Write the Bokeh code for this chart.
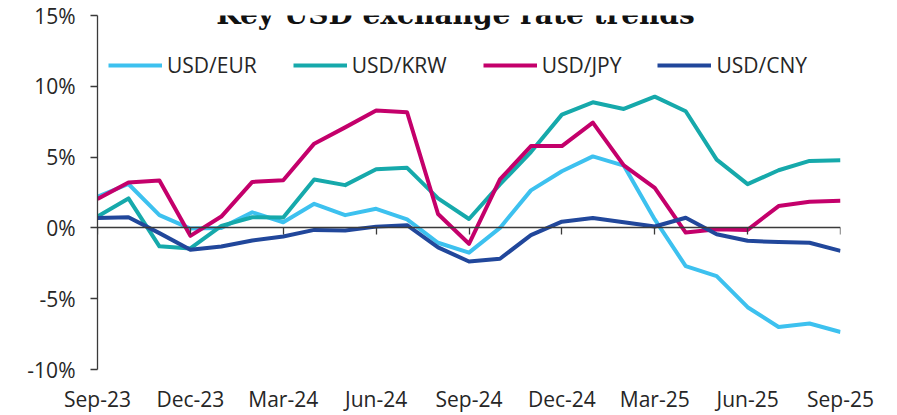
from bokeh.plotting import figure
from bokeh.models import (Range1d, LinearAxis, FixedTicker, CustomJSTickFormatter,
                          Legend, LegendItem, Label)
from bokeh.embed import file_html
from bokeh.resources import INLINE

months = ["Sep-23", "Oct-23", "Nov-23", "Dec-23", "Jan-24", "Feb-24", "Mar-24",
          "Apr-24", "May-24", "Jun-24", "Jul-24", "Aug-24", "Sep-24", "Oct-24",
          "Nov-24", "Dec-24", "Jan-25", "Feb-25", "Mar-25", "Apr-25", "May-25",
          "Jun-25", "Jul-25", "Aug-25", "Sep-25"]

usd_eur = [2.2, 3.1, 0.9, -0.05, 0.0, 1.1, 0.4, 1.7, 0.9, 1.35, 0.6, -1.05, -1.75,
           0.0, 2.65, 4.0, 5.05, 4.4, 0.6, -2.7, -3.4, -5.6, -7.0, -6.75, -7.35]
usd_krw = [0.8, 2.08, -1.3, -1.45, 0.14, 0.75, 0.73, 3.42, 3.02, 4.14, 4.24, 2.08, 0.63,
           3.07, 5.36, 8.0, 8.87, 8.4, 9.27, 8.24, 4.82, 3.09, 4.07, 4.73, 4.78]
usd_jpy = [2.04, 3.2, 3.35, -0.56, 0.8, 3.25, 3.37, 5.95, 7.1, 8.29, 8.17, 0.98, -1.12,
           3.42, 5.78, 5.78, 7.44, 4.42, 2.83, -0.33, -0.1, -0.14, 1.54, 1.85, 1.92]
usd_cny = [0.70, 0.75, -0.37, -1.54, -1.31, -0.89, -0.61, -0.14, -0.18, 0.09, 0.19, -1.38,
           -2.37, -2.18, -0.51, 0.44, 0.7, 0.4, 0.1, 0.72, -0.45, -0.91, -1.0, -1.05, -1.62]

series_names = ["USD/EUR", "USD/KRW", "USD/JPY", "USD/CNY"]
series_colors = ["#3DC1EF", "#16A9AB", "#C4006B", "#21479B"]
y_ticks = [-10, -5, 0, 5, 10, 15]
tick_labels = months[::3]

title_text = "Key USD exchange rate trends"
side_fragments = ["t", "e", "A", "at"]

x = list(range(len(months)))
tick_positions = x[::3]

FONT = "Open Sans"
TXT = "#262626"
AX = "#3a3a3a"

p = figure(width=897, height=415, output_backend="svg", toolbar_location=None,
           x_range=Range1d(0, len(months) - 1), y_range=Range1d(-10, 15),
           x_axis_type=None, y_axis_type=None,
           min_border_left=97, min_border_right=57, min_border_top=15,
           min_border_bottom=45)
p.outline_line_color = None
p.background_fill_color = "white"
p.border_fill_color = "white"

# y axis
yaxis = LinearAxis(ticker=FixedTicker(ticks=y_ticks),
                   major_label_overrides={t: f"{t}%" for t in y_ticks})
yaxis.axis_line_color = AX
yaxis.axis_line_width = 1.3
yaxis.major_tick_line_color = AX
yaxis.major_tick_line_width = 1.3
yaxis.major_tick_in = 0
yaxis.major_tick_out = 7
yaxis.minor_tick_line_color = None
yaxis.major_label_standoff = 15
yaxis.major_label_text_font = FONT
yaxis.major_label_text_font_size = "21px"
yaxis.major_label_text_color = TXT
p.add_layout(yaxis, "left")

# bottom labels (low position)
xaxis = LinearAxis(ticker=FixedTicker(ticks=tick_positions),
                   major_label_overrides=dict(zip(tick_positions, tick_labels)))
xaxis.axis_line_color = None
xaxis.major_tick_line_color = None
xaxis.minor_tick_line_color = None
xaxis.major_tick_in = 0
xaxis.major_tick_out = 0
xaxis.major_label_standoff = 15
xaxis.major_label_text_font = FONT
xaxis.major_label_text_font_size = "21px"
xaxis.major_label_text_color = TXT
p.add_layout(xaxis, "below")

# zero line axis with ticks
zaxis = LinearAxis(fixed_location=0, ticker=FixedTicker(ticks=tick_positions),
                   formatter=CustomJSTickFormatter(code="return ''"))
zaxis.axis_line_color = AX
zaxis.axis_line_width = 1.3
zaxis.major_tick_line_color = AX
zaxis.major_tick_line_width = 1.3
zaxis.major_tick_in = 0
zaxis.major_tick_out = 7
zaxis.minor_tick_line_color = None
zaxis.major_label_text_font_size = "0px"
p.add_layout(zaxis, "below")

for ax in (yaxis, xaxis, zaxis):
    if hasattr(ax, "background_fill_color"):
        ax.background_fill_color = None

renderers = []
for vals, col in zip([usd_eur, usd_krw, usd_jpy, usd_cny], series_colors):
    r = p.line(x, vals, line_color=col, line_width=4, line_join="round")
    renderers.append(r)

legend = Legend(items=[LegendItem(label=n, renderers=[r]) for n, r in zip(series_names, renderers)],
                orientation="horizontal", location=(11, 290),
                glyph_width=54, glyph_height=20, label_standoff=5, spacing=36,
                padding=0, margin=0, border_line_color=None, background_fill_alpha=0,
                label_text_font=FONT, label_text_font_size="21px", label_text_color=TXT)
p.add_layout(legend)

# title, positioned relative to the plot frame (screen px)
p.add_layout(Label(x=358, y=355, x_units="screen", y_units="screen", text=title_text,
                   text_font="DejaVu Serif", text_font_style="bold", text_font_size="28px",
                   text_align="center", text_baseline="alphabetic", text_color="#111111"))

# cut-off text fragments of the neighbouring column at the far left edge
frag_x = [-89, -83, -93, -82]
frag_y = [310, 82, 52, -1]
for t, fx, fy in zip(side_fragments, frag_x, frag_y):
    p.add_layout(Label(x=fx, y=fy, x_units="screen", y_units="screen", text=t,
                       text_font=FONT, text_font_size="22px", text_align="right",
                       text_baseline="alphabetic", text_color="#27304a",
                       level="overlay"))

open("out.html", "w").write(file_html(p, INLINE))
